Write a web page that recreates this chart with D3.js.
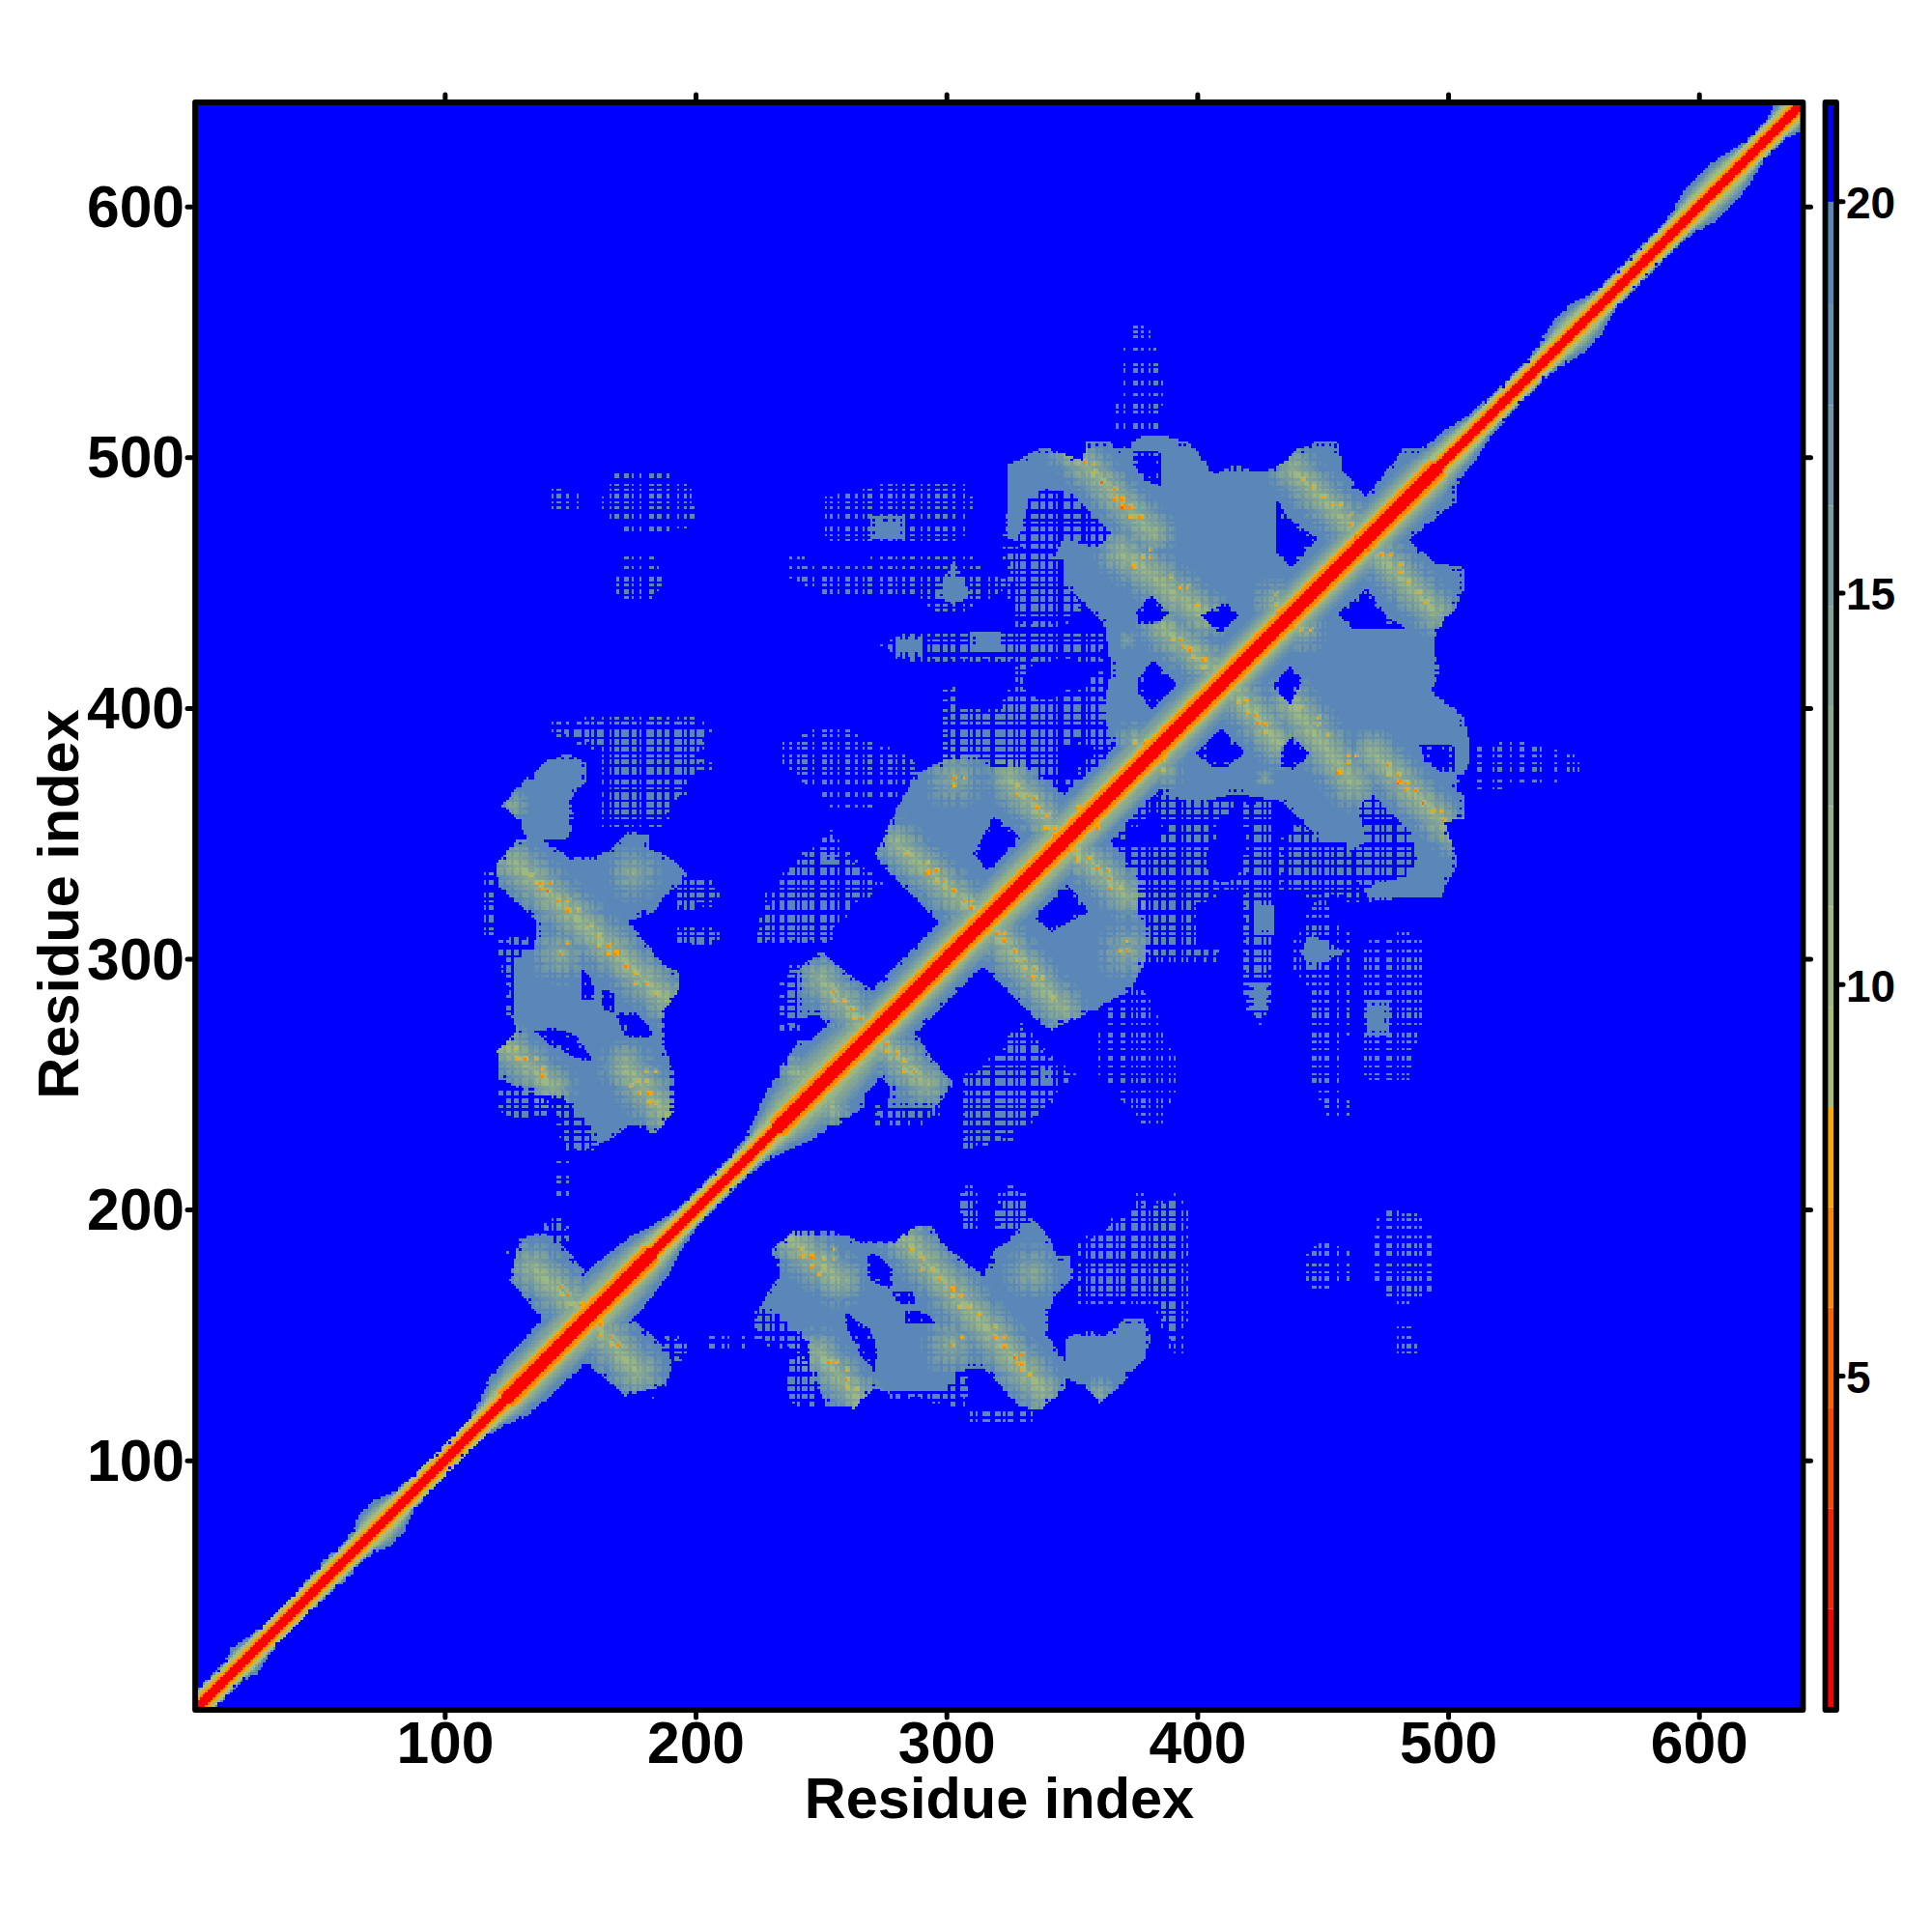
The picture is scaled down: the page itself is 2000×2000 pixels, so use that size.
<!DOCTYPE html>
<html><head><meta charset="utf-8">
<script src="https://d3js.org/d3.v7.min.js"></script>
<style>html,body{margin:0;background:#fff}svg{display:block}text{font-family:"Liberation Sans",Arial,sans-serif;font-weight:700;fill:#000}</style>
</head><body><svg id="c" width="2000" height="2000"></svg>
<script>
const axisTicks=[100,200,300,400,500,600];
const barTicks=[5,10,15,20];
const thresholds=[2.02,3.30,4.58,5.87,7.15,8.43,9.71,10.99,12.27,13.55,14.83,16.11,17.39,18.67,19.99];
const levelColors=["#ff0000","#ff2000","#ff4500","#ff6200","#ff8700","#ffa500","#a6bd7c","#9db883","#94b189","#8aaa90","#81a397","#789c9f","#6e95a8","#6490b0","#5b87b8","#0000ff"];
// |i-j| extent of the diagonal band, read along the diagonal
const diagonalReach=[[1,8],[10,7],[15,7],[20,10],[25,8],[32,6],[45,7],[52,7],[57,9],[62,7],[68,9],[73,13],[78,12],[83,8],[88,7],[95,6],[105,6],[113,7],[119,10],[125,15],[132,16],[150,18],[165,19],[175,17],[182,15],[190,10],[195,8],[205,7],[215,7],[224,9],[230,13],[238,19],[250,23],[262,21],[270,17],[300,17],[330,19],[400,17],[490,17],[500,13],[505,12],[512,9],[518,8],[525,7],[535,7],[543,10],[550,13],[555,12],[562,8],[570,7],[585,7],[592,8],[600,12],[610,13],[617,10],[623,7],[630,7],[636,11],[641,12]];
// regions above the diagonal, in residue coordinates [x,y]; the map is symmetric
const solidRegions=[
 [[123,361],[127,366],[134,373],[141,379],[149,382],[157,378],[157,371],[153,368],[150,362],[152,356],[149,348],[133,348],[129,356]],
 [[120,337],[129,348],[140,347],[149,341],[159,340],[168,345],[174,351],[182,349],[182,344],[191,340],[197,333],[188,325],[184,319],[174,315],[178,309],[187,298],[194,294],[193,287],[188,280],[187,272],[188,264],[192,253],[192,240],[184,230],[174,234],[169,230],[160,225],[156,236],[148,244],[136,246],[122,252],[121,263],[129,271],[127,277],[128,298],[136,307],[137,315],[128,323],[122,329]],
 [[126,172],[130,188],[139,191],[147,186],[156,175],[160,168],[159,157],[139,156]],
 [[240,295],[250,303],[261,294],[271,287],[268,271],[256,270],[249,278],[241,276]],
 [[241,267],[256,268],[264,265],[251,251],[232,246],[234,257]],
 [[250,342],[257,342],[257,338],[250,338]],[[280,421],[291,421],[291,429],[280,429]],[[310,423],[322,423],[322,431],[310,431]],
 [[272,342],[280,360],[288,374],[299,379],[310,382],[319,376],[330,378],[351,364],[356,356],[299,299],[297,315],[283,329],[274,338]],
 [[323,469],[325,485],[325,497],[338,504],[354,499],[356,506],[364,507],[369,503],[379,509],[389,508],[397,506],[407,493],[414,497],[421,495],[429,495],[436,499],[440,503],[449,507],[456,506],[458,495],[467,484],[475,494],[482,503],[497,504],[497,497],[380,380],[366,387],[362,399],[366,415],[363,433],[356,441],[347,449],[347,458],[339,461]],
 [[296,445],[303,459],[310,445],[303,441]],
 [[270,468],[284,468],[284,477],[270,477]]
];
const voidRegions=[
 [[155,296],[159,291],[160,283],[155,284]],[[163,288],[168,286],[168,278],[163,280]],[[168,279],[175,279],[183,272],[182,268],[172,269]],[[136,271],[145,273],[153,269],[159,260],[153,260],[142,266]],
 [[311,342],[319,357],[330,348],[318,333]],
 [[376,438],[381,445],[389,438],[384,433],[377,434]],[[402,437],[411,442],[417,437],[409,430]],[[377,412],[382,419],[392,410],[382,399],[377,406]],
 [[432,483],[436,476],[448,468],[438,456],[432,462]],[[331,415],[343,422],[362,420],[363,414],[352,406],[338,403],[331,406]],[[305,420],[325,420],[330,412],[321,398],[305,400]],
 [[344,384],[352,388],[366,384],[355,377],[347,365]],[[375,503],[385,502],[386,488],[379,491],[375,497]]
];
const latticeCuts=[[[339,488],[351,485],[367,468],[358,464],[347,468],[342,459],[328,466],[333,483]]];
const latticeRegions=[
 [[142,394],[170,398],[197,398],[207,392],[202,380],[210,377],[197,372],[197,367],[187,353],[170,352],[160,352],[163,382],[142,390]],
 [[121,307],[136,310],[133,271],[125,277],[122,298]],
 [[190,332],[204,334],[211,328],[208,321],[191,319]],[[191,313],[205,314],[211,310],[206,303],[191,305]],[[122,250],[142,250],[142,236],[128,234],[122,240]],[[142,244],[161,244],[161,223],[147,223]],[[145,223],[150,223],[150,206],[145,206]],
 [[234,294],[242,300],[242,270],[234,272]],[[255,352],[259,344],[276,329],[263,321],[252,305],[224,306],[228,326],[241,341]],
 [[322,467],[351,463],[355,437],[344,432],[326,433]],[[274,425],[283,430],[310,432],[364,432],[363,421],[332,418],[291,418],[279,420]],
 [[299,409],[330,418],[363,418],[369,388],[350,364],[319,376],[299,379]],
 [[122,181],[132,189],[145,198],[152,191],[146,184],[132,187]]
];
const sparseRegions=[
 [[282,491],[307,491],[311,482],[307,467],[290,467],[278,464],[253,467],[251,470],[252,484]],
 [[236,461],[260,458],[274,461],[294,461],[310,461],[326,449],[310,440],[303,434],[286,445],[253,445],[236,452]],
 [[254,394],[272,387],[287,379],[288,370],[274,361],[255,360],[235,378],[235,386]],
 [[168,495],[183,497],[198,488],[200,473],[186,469],[172,471],[161,480]],[[170,461],[184,460],[188,449],[180,441],[168,445]],[[141,488],[154,486],[153,478],[142,480]],[[372,554],[381,552],[387,530],[385,510],[367,510],[369,532]],[[115,335],[122,335],[122,310],[115,310]]
];
// strand pairings: x1,y1,x2,y2,half width
const bands=[[135,177,156,158,12],[128,338,188,284,12],[122,267,143,249,11],[172,257,188,238,12],[250,292,268,272,11],[240,255,252,245,8],[280,346,312,318,11],[325,372,348,346,11],[350,502,382,470,11],[370,462,402,437,12],[386,432,412,411,11],[438,495,468,466,11]];
// soft patches: x,y,radius
const patches=[[127,361,7],[175,334,12],[146,302,13],[303,372,13],[375,387,9],[388,376,6],[431,442,10],[372,427,4],[445,432,6]];
// brightest cells: x,y,value
const hotCells=[[134,333,7.8],[136,330,7.8],[138,330,6.5],[142,330,6.5],[141,327,5.4],[138,328,6.5],[145,323,6.5],[149,323,7.8],[149,319,6.5],[153,319,7.8],[158,313,7.8],[161,309,7.8],[161,305,7.8],[165,305,6.5],[165,302,7.8],[168,302,6.5],[172,297,6.5],[176,294,7.8],[176,290,7.8],[180,290,6.5],[184,286,7.8],[149,306,7.8],[146,302,6.5],
[132,260,6.5],[136,260,7.8],[139,256,7.8],[139,253,6.5],[129,260,7.8],[128,264,7.8],[180,255,7.8],[184,255,7.8],[177,251,7.8],[180,251,7.8],[174,249,7.8],[177,246,6.5],[181,246,6.5],[181,242,6.5],[184,242,7.8],
[255,287,6.5],[255,283,7.8],[259,283,7.8],[262,280,6.5],[266,276,6.5],[263,276,7.8],[246,251,6.5],[251,245,6.5],[246,249,6.5],
[284,342,7.8],[292,338,7.8],[292,334,6.5],[296,335,6.5],[296,331,7.8],[299,331,6.5],[299,328,7.8],[303,327,6.5],[307,323,6.5],[310,323,7.8],[310,320,6.5],[303,372,6.5],[307,372,7.8],[303,369,7.8],
[328,369,7.8],[328,365,6.5],[332,365,6.5],[335,364,6.5],[336,360,6.5],[340,357,7.8],[340,352,7.8],[343,352,7.8],[343,349,6.5],[339,352,7.8],[352,360,6.5],[352,356,6.5],
[355,498,6.5],[359,497,7.8],[359,494,7.8],[362,490,5.4],[367,487,6.5],[367,483,6.5],[370,483,6.5],[373,480,6.5],[370,480,5.4],[373,476,7.8],[377,476,6.5],[381,463,7.8],
[374,456,6.5],[378,460,7.8],[381,460,7.8],[389,452,7.8],[393,448,7.8],[396,448,7.8],[400,441,7.8],[390,427,7.8],[393,427,6.5],[394,424,6.5],[397,423,6.5],[398,420,7.8],[402,419,6.5],[402,416,7.8],[409,414,7.8],
[442,491,7.8],[446,488,7.8],[450,484,7.8],[454,481,7.8],[457,481,7.8],[461,477,7.8],[461,473,6.5],[465,469,6.5],[463,468,5.4],[375,386,7.8],[379,386,6.5],[386,379,7.8],[390,375,7.8],[431,445,7.8],[431,441,7.8],[432,438,6.5],[146,169,6.5],[146,166,7.8],[149,166,6.5],[150,162,7.8],[154,162,6.5],[154,158,7.8],[124,129,7.8],[125,120,7.8]];
// residues whose rows/columns stay in range in the thin fringes
const residueMask=("1101101110110010111011011001110101101110010110111011001101110110"+"0111011010110111001101101011101100111010110110111001011011101101"+"1011100110111010110110011101101011100101101110110100111011011001"+"1101011011100110101110110110010111011010011011101011011001110110"+"1001101110101101110011011010111011001011101101100111010110111001"+"1110110101100111011011010011101110010110110111010110011101101011"+"0110111001011011101100110111010110110011101011011100101110110110"+"1011010111011001101110110101100111011010110111001101101001110111"+"1100110110101110110011101011011001011101101110010110111010110011"+"0101110110110010111011010111001101101110100110111011010110011101");
const mask=i=>residueMask[(i-1)%residueMask.length]==="1";

const x=d3.scaleLinear().domain([0.5,641.5]).range([202,1866.5]);
const y=d3.scaleLinear().domain([0.5,641.5]).range([1770,106]);
const barY=d3.scaleLinear().domain([0.73,21.26]).range([1770,106]);
const reachAt=d3.scaleLinear().domain(diagonalReach.map(d=>d[0])).range(diagonalReach.map(d=>d[1]));

const box=p=>({p,x0:d3.min(p,d=>d[0])-3,x1:d3.max(p,d=>d[0])+3,y0:d3.min(p,d=>d[1])-3,y1:d3.max(p,d=>d[1])+3});
const solid=solidRegions.map(box),voids=voidRegions.map(box),cuts=latticeCuts.map(box),lats=latticeRegions.map(box),spars=sparseRegions.map(box);
const inAny=(list,a,b)=>{for(const r of list){if(a<r.x0||a>r.x1||b<r.y0||b>r.y1)continue;if(d3.polygonContains(r.p,[a,b]))return true;}return false;};
const deep=(list,a,b)=>inAny(list,a-2,b)&&inAny(list,a+2,b)&&inAny(list,a,b-2)&&inAny(list,a,b+2);

function segDist(px,py,b){const dx=b[2]-b[0],dy=b[3]-b[1];let t=((px-b[0])*dx+(py-b[1])*dy)/(dx*dx+dy*dy);t=Math.max(0,Math.min(1,t));return Math.hypot(px-b[0]-t*dx,py-b[1]-t*dy);}

const N=641;
const grid=new Float32Array((N+1)*(N+1)).fill(99);
const STEEL=19.3;
for(let i=1;i<=N;i++){for(let j=i;j<=N;j++){
  let v=99;const d=j-i,m=(i+j)/2,a=mask(i),b=mask(j),thin=mask(i+3)&&mask(j+5);
  const isVoid=inAny(voids,i,j);
  const hard=isVoid&&deep(voids,i,j);
  if(!hard){
    if(isVoid){ if(a&&b&&thin) v=STEEL; }
    else if(inAny(cuts,i,j)){ if(a&&b) v=STEEL; }
    else if(inAny(solid,i,j)){ if(deep(solid,i,j)||a||b) v=STEEL; }
    else if(inAny(lats,i,j)){ if(a&&b&&(deep(lats,i,j)||thin)) v=STEEL; }
    else if(inAny(spars,i,j)){ if(a&&b&&thin) v=STEEL; }
    if(!isVoid&&v<99){
      for(const s of bands){const dist=segDist(i,j,s);if(dist<s[4]){let w=10+9*dist/s[4];if(!a||!b)w+=2.6;v=Math.min(v,w);}}
      for(const s of patches){const dist=Math.hypot(i-s[0],j-s[1]);if(dist<s[2]){let w=12+6.6*dist/s[2];if(!a||!b)w+=2.6;v=Math.min(v,w);}}
    }
  }
  const reach=reachAt(m);
  if(d<=reach && (d<reach-1||a||b)){
    const wide=reach>14.5;let w;
    if(d<=2)w=1.5;
    else if(d===3)w=wide?1.5:6.5;
    else if(d===4)w=wide?6.5:8;
    else if(d===5)w=wide?6.5:9;
    else if(d===6)w=wide?8:9.5;
    else w=9.2+10*Math.min(1,(d-6)/Math.max(1,reach*0.85-6));
    v=Math.min(v,w);
  }
  grid[i*(N+1)+j]=v;
}}
for(const h of hotCells){for(const u of [0,1])for(const w of [0,1]){const k=(h[0]+u)*(N+1)+h[1]+w;if(h[1]+w>h[0]+u)grid[k]=Math.min(grid[k],u+w===0?h[2]:Math.max(h[2]+1.4,grid[k]-3));}}

// merge cells into runs, one path per colour level
const levelOf=d3.scaleThreshold().domain(thresholds).range(d3.range(levelColors.length));
const paths=levelColors.map(()=>d3.path());
for(let r=1;r<=N;r++){
  let start=1,cur=-1;
  const val=c=>{const a=Math.min(r,c),b=Math.max(r,c);return levelOf(grid[a*(N+1)+b]);};
  cur=val(1);
  for(let c=2;c<=N+1;c++){
    const l=c<=N?val(c):-2;
    if(l!==cur){
      if(cur!==levelColors.length-1){
        const x0=Math.round(x(start-0.5)*10)/10,x1=Math.round(x(c-0.5)*10)/10,y0=Math.round(y(r+0.5)*10)/10,y1=Math.round(y(r-0.5)*10)/10;
        paths[cur].rect(x0,y0,x1-x0,y1-y0);
      }
      start=c;cur=l;
    }
  }
}
const svg=d3.select("#c");
svg.append("rect").attr("x",x(0.5)).attr("y",y(641.5)).attr("width",x(641.5)-x(0.5)).attr("height",y(0.5)-y(641.5)).attr("fill",levelColors[15]);
svg.append("g").selectAll("path").data(paths).join("path").attr("d",d=>d.toString()).attr("fill",(d,i)=>levelColors[i]).attr("shape-rendering","crispEdges");

// colour bar
const barEdges=[0.73,...thresholds,21.26];
svg.append("g").selectAll("rect").data(levelColors).join("rect").attr("x",1892).attr("width",6.5)
  .attr("y",(d,i)=>barY(barEdges[i+1])).attr("height",(d,i)=>barY(barEdges[i])-barY(barEdges[i+1])).attr("fill",d=>d);

// frames
const frame=(xa,xb)=>svg.append("rect").attr("x",xa).attr("y",106).attr("width",xb-xa).attr("height",1664).attr("fill","none").attr("stroke","#000").attr("stroke-width",5.8).attr("stroke-linejoin","round");
frame(202,1866.5);frame(1889.5,1901);

function style(g,fs,dy){g.select(".domain").remove();g.selectAll("line").attr("stroke","#000").attr("stroke-width",5).attr("stroke-linecap","round");g.selectAll("text").attr("font-size",fs).attr("fill","#000").attr("font-family","'Liberation Sans',Arial,sans-serif").attr("font-weight",700);if(dy)g.selectAll("text").attr("dy",dy);}
style(svg.append("g").attr("transform","translate(0,1770)").call(d3.axisBottom(x).tickValues(axisTicks).tickSize(8).tickPadding(4)),60.5);
style(svg.append("g").attr("transform","translate(202,0)").call(d3.axisLeft(y).tickValues(axisTicks).tickSize(8).tickPadding(3)),60.5,"0.34em");
style(svg.append("g").attr("transform","translate(0,106)").call(d3.axisTop(x).tickValues(axisTicks).tickSize(8).tickFormat("")),60);
style(svg.append("g").attr("transform","translate(1866.5,0)").call(d3.axisRight(y).tickValues(axisTicks).tickSize(8).tickFormat("")),60);
style(svg.append("g").attr("transform","translate(1901,0)").call(d3.axisRight(barY).tickValues(barTicks).tickSize(7).tickPadding(3)),46,"0.38em");

svg.append("text").attr("x",1034.5).attr("y",1882).attr("text-anchor","middle").attr("font-size",59.5).text("Residue index");
svg.append("text").attr("transform","translate(81,936) rotate(-90)").attr("text-anchor","middle").attr("font-size",59.5).text("Residue index");
</script></body></html>
